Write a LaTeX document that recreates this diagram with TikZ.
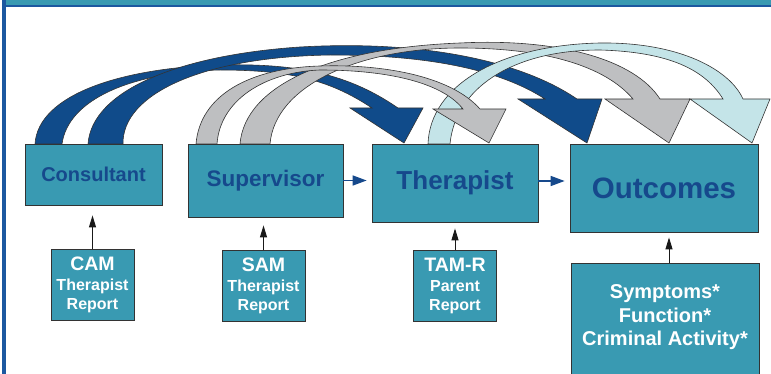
\documentclass[tikz,border=0pt]{standalone}
\usepackage{fontspec}
\setmainfont{Liberation Sans}
\usetikzlibrary{positioning, arrows.meta}

\definecolor{boxteal}{RGB}{57,154,178}
\definecolor{labelblue}{RGB}{22,73,140}
\definecolor{arcdark}{RGB}{16,75,138}
\definecolor{arcgray}{RGB}{190,191,193}
\definecolor{arclight}{RGB}{196,228,232}
\definecolor{frameblue}{RGB}{28,88,160}

\begin{document}
\begin{tikzpicture}[
        x=1pt, y=-1pt,
        every node/.style={font=\bfseries},
        mainbox/.style={draw=black!80, fill=boxteal, line width=0.8pt, text=labelblue, align=center},
        reportbox/.style={draw=black!80, fill=boxteal, line width=0.8pt, text=white, align=center, minimum width=83pt, minimum height=71pt, inner sep=2pt, font=\bfseries\fontsize{16}{19.5}\selectfont},
        flow/.style={draw=labelblue, line width=1.5pt, -{Triangle[length=14pt,width=10pt]}, shorten >=5pt},
        feed/.style={draw=black!90, line width=1pt, -{Triangle[length=12pt,width=7pt]}},
        band/.style={draw=black!80, line width=0.6pt}
    ]

    \useasboundingbox (0,0) rectangle (771,374);
    \clip (0,0) rectangle (771,374);

    % frame
    \fill[boxteal] (6,0) rectangle (771,5);
    \fill[frameblue] (6,5) rectangle (771,7);
    \fill[frameblue] (2,0) rectangle (6,374);

    \node[mainbox, minimum width=137pt, minimum height=61pt, font=\bfseries\fontsize{20}{24}\selectfont] (consultant) at (93.5,174.5) {Consultant};
    \node[mainbox, minimum width=155pt, minimum height=73pt, font=\bfseries\fontsize{22.5}{26}\selectfont] (supervisor) at (265.5,180.5) {Supervisor};
    \node[mainbox, minimum width=166pt, minimum height=78pt, font=\bfseries\fontsize{26}{30}\selectfont] (therapist) at (455,183) {Therapist};
    \node[mainbox, minimum width=188pt, minimum height=88pt, font=\bfseries\fontsize{29.5}{34}\selectfont] (outcomes) at (664,188) {Outcomes};

    \node[reportbox, below=44pt of consultant, xshift=-1pt] (cam) {{\fontsize{19.5}{20}\selectfont CAM}\\Therapist\\Report};
    \node[reportbox, below=33pt of supervisor, xshift=-2pt] (sam) {{\fontsize{19.5}{20}\selectfont SAM}\\Therapist\\Report};
    \node[reportbox, below=28pt of therapist] (tamr) {{\fontsize{19.5}{20}\selectfont TAM-R}\\Parent\\Report};
    \node[mainbox, text=white, minimum width=188pt, inner ysep=21pt, below=31pt of outcomes, xshift=1pt, font=\bfseries\fontsize{20}{23.5}\selectfont] (symptoms) {Symptoms*\\Function*\\Criminal Activity*\rule[-60pt]{0pt}{60pt}};

    \draw[flow] (supervisor.east) -- (supervisor.east -| therapist.west);
    \draw[flow] ([yshift=2pt]therapist.east) -- ([yshift=2pt]therapist.east -| outcomes.west);

    \draw[feed, shorten >=10pt] (cam.north) -- (cam.north |- consultant.south);
    \draw[feed, shorten >=8pt] (sam.north) -- (sam.north |- supervisor.south);
    \draw[feed, shorten >=6pt] (tamr.north) -- (tamr.north |- therapist.south);
    \draw[feed, shorten >=5pt] ([xshift=4pt]symptoms.north) -- ([xshift=4pt]symptoms.north |- outcomes.south);

    % consultant -> therapist
    \filldraw[band, fill=arcdark] (35,144) .. controls (38,95) and (120,68) .. (220,65) .. controls (300,63) and (350,75) .. (398,108)
        -- (423,108) -- (404,143) -- (350,108) -- (372,108) .. controls (330,80) and (290,70) .. (220,70) .. controls (130,72) and (68,100) .. (62,144) -- cycle;
    % consultant -> outcomes
    \filldraw[band, fill=arcdark] (88,144) .. controls (92,90) and (180,55) .. (300,47) .. controls (420,40) and (520,60) .. (577,99)
        -- (602,99) -- (587,143) -- (518,99) -- (545,99) .. controls (500,70) and (430,55) .. (330,55) .. controls (200,57) and (122,95) .. (123,144) -- cycle;
    % supervisor -> outcomes
    \filldraw[band, fill=arcgray] (240,144) .. controls (245,85) and (330,48) .. (460,43) .. controls (560,38) and (635,60) .. (660,99)
        -- (690,99) -- (669,143) -- (605,99) -- (633,99) .. controls (605,66) and (545,48) .. (460,48) .. controls (360,48) and (275,85) .. (270,144) -- cycle;
    % therapist -> outcomes
    \filldraw[band, fill=arclight] (428,144) .. controls (430,85) and (500,45) .. (600,43) .. controls (680,42) and (730,70) .. (743,99)
        -- (770,99) -- (752,143) -- (690,99) -- (723,99) .. controls (705,70) and (670,52) .. (600,50) .. controls (510,50) and (455,90) .. (450,144) -- cycle;
    % supervisor -> therapist
    \filldraw[band, fill=arcgray] (196,144) .. controls (200,95) and (250,68) .. (320,66) .. controls (380,64) and (450,75) .. (480,109)
        -- (506,109) -- (489,143) -- (433,109) -- (463,109) .. controls (440,80) and (380,70) .. (320,70) .. controls (265,72) and (220,100) .. (217,144) -- cycle;

\end{tikzpicture}
\end{document}
